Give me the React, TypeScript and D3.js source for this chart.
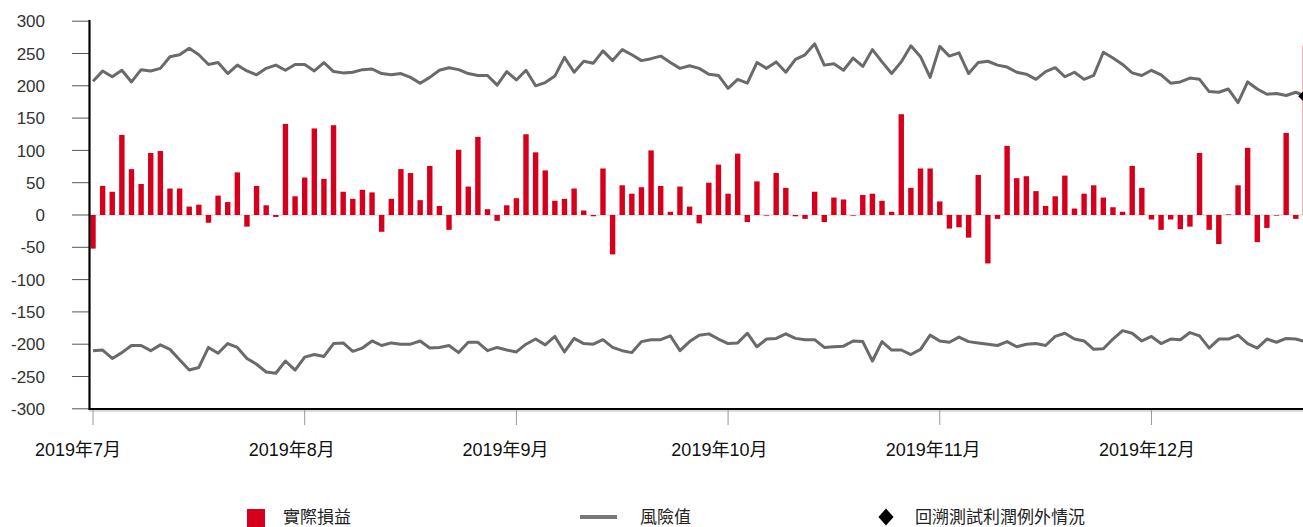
import React from "react";
import * as d3 from "d3";

// 每日實際損益 (daily P&L), one bar per trading day
const pnl = [
  -52, 45, 36, 124, 71, 48, 96, 99, 41, 41, 13, 16, -12, 30, 20, 66, -18, 45, 15, -3,
  141, 29, 58, 134, 56, 139, 36, 25, 39, 35, -26, 25,
  71, 65, 23, 76, 14, -23, 101, 44, 121, 9, -9, 15, 26, 125, 97, 69, 22, 25, 41, 7,
  -2, 72, -61, 46, 33, 43, 100, 45, 5, 44, 13,
  -13, 50, 78, 33, 95, -11, 52, 0, 65, 42, -2, -6, 36, -11, 27, 24, 0, 31, 33, 22,
  5, 156, 42, 72, 72, 21, -21, -19, -35, 62, -75,
  -6, 107, 57, 60, 37, 14, 29, 61, 10, 33, 46, 27, 12, 5, 76, 42, -7, -23, -7, -22,
  -18, 96, -23, -45, 1, 46, 104, -42, -20, 0, 127, -6, 262,
];

// 風險值 upper band
const varUpper = [
  207, 223, 214, 224, 206, 225, 223, 227, 245, 248, 258, 248, 233, 236, 219, 232, 223, 217, 227, 232,
  224, 233, 233, 223, 236, 222, 220, 221, 225, 226, 219, 217,
  219, 213, 204, 213, 224, 228, 225, 219, 216, 216, 201, 222, 209, 224, 200, 205, 215, 244, 221, 238,
  235, 254, 239, 256, 248, 239, 242, 246, 236, 227, 231,
  227, 218, 216, 196, 210, 204, 236, 227, 237, 221, 241, 248, 265, 232, 234, 224, 243, 230, 256, 237,
  219, 237, 262, 245, 213, 261, 246, 251, 219, 236, 238,
  232, 229, 221, 218, 210, 222, 228, 214, 221, 210, 216, 252, 243, 233, 220, 216, 224, 217, 204, 206,
  212, 210, 191, 190, 195, 174, 206, 195, 187, 188, 185, 190, 184,
];

// 風險值 lower band
const varLower = [
  -210, -209, -222, -213, -202, -202, -210, -201, -208, -224, -240, -236, -205, -214, -199, -205, -222, -231, -243, -245,
  -226, -240, -220, -216, -219, -199, -198, -211, -206, -195, -202, -198,
  -200, -200, -195, -206, -205, -202, -213, -197, -197, -210, -205, -209, -212, -200, -192, -201, -188, -212, -191, -199,
  -200, -193, -205, -210, -213, -196, -193, -193, -187, -210, -196,
  -186, -184, -192, -199, -198, -183, -204, -192, -191, -184, -191, -193, -193, -205, -204, -203, -195, -196, -226, -196,
  -209, -209, -216, -208, -186, -195, -197, -189, -196, -198, -200,
  -202, -196, -204, -200, -199, -202, -188, -183, -192, -195, -208, -207, -192, -179, -183, -195, -188, -199, -192, -193,
  -182, -187, -206, -192, -192, -186, -199, -206, -192, -197, -191, -192, -196,
];

// 回溯測試利潤例外 (index of the exception day)
const exceptionDays = [126];

const yTicks = [300, 250, 200, 150, 100, 50, 0, -50, -100, -150, -200, -250, -300];
const monthTickIdx = [0, 22, 44, 66, 88, 110];
const monthLabels = ["2019年7月", "2019年8月", "2019年9月", "2019年10月", "2019年11月", "2019年12月"];
const legendLabels = ["實際損益", "風險值", "回溯測試利潤例外情況"];

const W = 1303;
const H = 527;
const RED = "#d6001c";
const GREY = "#6a6a6d";
const FONT = "'Liberation Sans', Arial, 'Noto Sans CJK TC', sans-serif";

export default function App() {
  const x = d3.scaleLinear().domain([0, pnl.length - 1]).range([93, 1305.4]);
  const y = d3.scaleLinear().domain([-300, 300]).range([408.8, 21.2]);
  const labelX = d3.scaleLinear().domain([0, monthLabels.length - 1]).range([78, 1147]);
  const barW = 5.4;

  const line = d3
    .line<number>()
    .x((_, i) => x(i))
    .y(d => y(d));

  // square rotated 45°, like the original marker
  const diamond = d3.symbol(d3.symbolDiamond2, 130)();
  const legendDiamond = d3.symbol(d3.symbolDiamond2, 145)();

  return (
    <div style={{ position: "absolute", left: 0, top: 0, width: W, height: H, overflow: "hidden", background: "#fff" }}>
      <svg width={W} height={H} style={{ display: "block", fontFamily: FONT }}>
        <defs>
          <clipPath id="plot">
            <rect x={90} y={0} width={W - 90} height={409} />
          </clipPath>
        </defs>

        {/* y ticks + labels */}
        {yTicks.map(t => (
          <g key={t}>
            <line x1={72} x2={89} y1={y(t)} y2={y(t)} stroke="#555" strokeWidth={1} />
            <text x={45} y={y(t)} dy="0.36em" textAnchor="end" fontSize={17} fill="#333">
              {t}
            </text>
          </g>
        ))}

        {/* zero line */}
        <line x1={90} x2={W} y1={y(0)} y2={y(0)} stroke="#d0d0d0" strokeWidth={1} />

        <g clipPath="url(#plot)">
          {pnl.map((v, i) => (
            <rect
              key={i}
              x={x(i) - barW / 2}
              y={Math.min(y(v), y(0))}
              width={barW}
              height={Math.max(Math.abs(y(v) - y(0)), 0.6)}
              fill={RED}
            />
          ))}
          <path d={line(varUpper) || ""} fill="none" stroke={GREY} strokeWidth={3} strokeLinejoin="round" />
          <path d={line(varLower) || ""} fill="none" stroke={GREY} strokeWidth={3} strokeLinejoin="round" />
          {exceptionDays.map(i => (
            <path key={i} d={diamond || ""} transform={`translate(${x(i)},${y(varUpper[i])})`} fill="#000" />
          ))}
        </g>

        {/* axes */}
        <line x1={89.5} x2={89.5} y1={20} y2={410} stroke="#000" strokeWidth={2.2} />
        <line x1={89} x2={W} y1={409} y2={409} stroke="#000" strokeWidth={2.2} />
        <line x1={89} x2={W} y1={411} y2={411} stroke="#bbb" strokeWidth={1} />
        {monthTickIdx.map(i => (
          <line key={i} x1={x(i)} x2={x(i)} y1={410} y2={425} stroke="#999" strokeWidth={1} />
        ))}
        {monthLabels.map((m, k) => (
          <text key={m} x={labelX(k)} y={456} textAnchor="middle" fontSize={18} fill="#111">
            {m}
          </text>
        ))}

        {/* legend */}
        <g fontSize={17} fill="#222">
          <rect x={247} y={509} width={18} height={18} fill={RED} />
          <text x={283} y={523}>{legendLabels[0]}</text>
          <line x1={580} x2={617} y1={517} y2={517} stroke="#777" strokeWidth={4} />
          <text x={640} y={523}>{legendLabels[1]}</text>
          <path d={legendDiamond || ""} transform="translate(886,517) scale(1,1.12)" fill="#000" />
          <text x={915} y={523}>{legendLabels[2]}</text>
        </g>
      </svg>
    </div>
  );
}
